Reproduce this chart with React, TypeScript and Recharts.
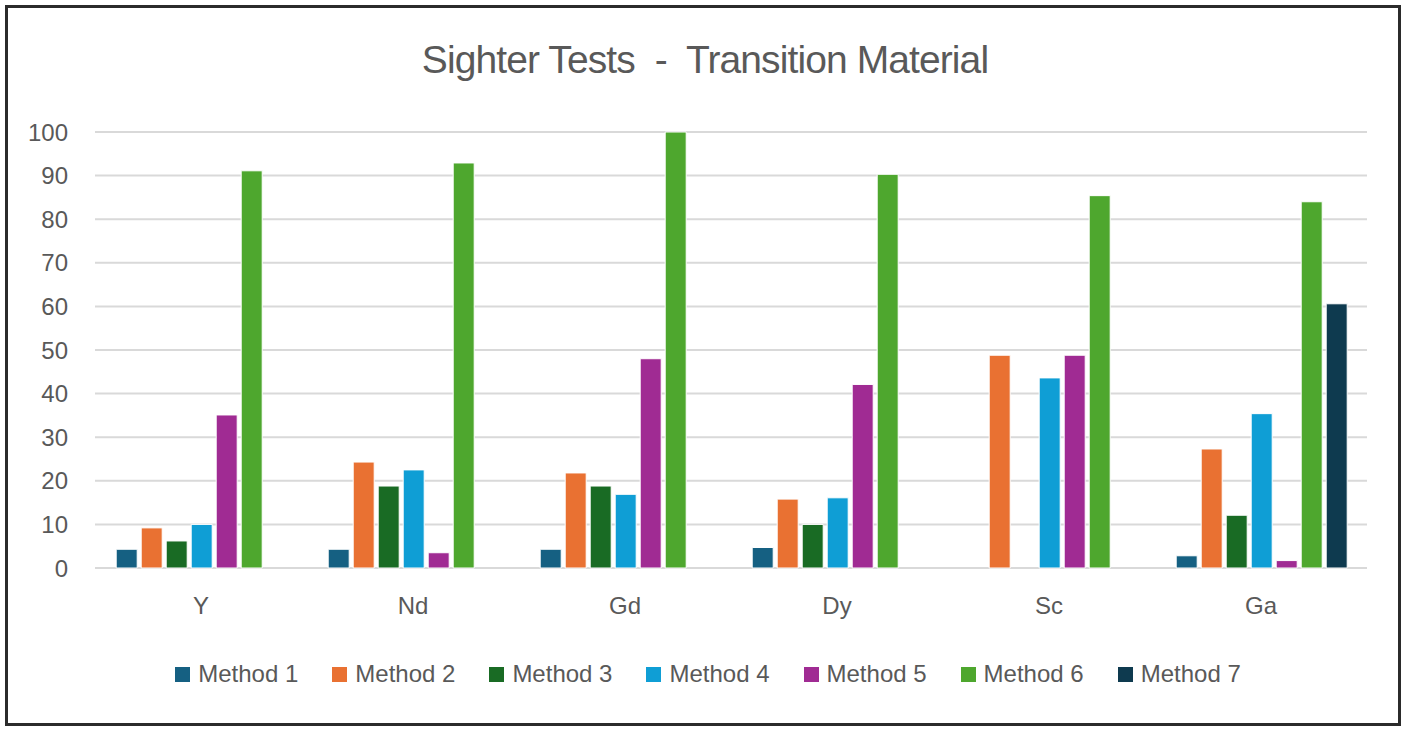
import React from 'react';
import { BarChart, Bar, XAxis, YAxis, CartesianGrid, Legend } from 'recharts';

const categories = ['Y', 'Nd', 'Gd', 'Dy', 'Sc', 'Ga'];
const method1 = [4.3, 4.3, 4.3, 4.7, null, 2.8];
const method2 = [9.2, 24.3, 21.8, 15.8, 48.8, 27.3];
const method3 = [6.2, 18.8, 18.8, 10.0, null, 12.1];
const method4 = [10.0, 22.5, 16.9, 16.1, 43.6, 35.4];
const method5 = [35.1, 3.5, 48.0, 42.1, 48.8, 1.7];
const method6 = [91.1, 92.9, 100, 90.3, 85.4, 84.0];
const method7 = [null, null, null, null, null, 60.6];
const yTicks = [0, 10, 20, 30, 40, 50, 60, 70, 80, 90, 100];

const seriesNames = ['Method 1', 'Method 2', 'Method 3', 'Method 4', 'Method 5', 'Method 6', 'Method 7'];
const seriesColors = ['#156082', '#E97132', '#196B24', '#0F9ED5', '#A02B93', '#4EA72E', '#0E3A4F'];
const seriesValues = [method1, method2, method3, method4, method5, method6, method7];

const data = categories.map((c, i) => {
  const row: Record<string, any> = { name: c };
  seriesNames.forEach((s, k) => {
    row[s] = seriesValues[k][i];
  });
  return row;
});

const FONT = '"Liberation Sans", Arial, sans-serif';
const TEXT = '#595959';

const LegendContent = () => (
  <div
    style={{
      display: 'flex',
      justifyContent: 'center',
      alignItems: 'center',
      height: 40,
      paddingLeft: 34,
      fontFamily: FONT,
      fontSize: 24,
      color: TEXT,
    }}
  >
    {seriesNames.map((s, k) => (
      <div
        key={s}
        style={{
          display: 'flex',
          alignItems: 'center',
          marginRight: k < seriesNames.length - 1 ? 34 : 0,
        }}
      >
        <span
          style={{
            display: 'inline-block',
            width: 15,
            height: 15,
            background: seriesColors[k],
            marginRight: 8,
          }}
        />
        <span style={{ whiteSpace: 'nowrap' }}>{s}</span>
      </div>
    ))}
  </div>
);

export default function App() {
  return (
    <div
      style={{
        position: 'absolute',
        left: 0,
        top: 0,
        width: 1408,
        height: 734,
        background: '#fff',
        overflow: 'hidden',
      }}
    >
      <div
        style={{
          position: 'absolute',
          left: 5,
          top: 5,
          width: 1396,
          height: 721,
          border: '3px solid #2b2b2b',
          boxSizing: 'border-box',
        }}
      />
      <div
        style={{
          position: 'absolute',
          left: 0,
          top: 40,
          width: 1410,
          textAlign: 'center',
          fontFamily: FONT,
          fontSize: 39,
          lineHeight: '39px',
          letterSpacing: '-0.9px',
          color: TEXT,
          whiteSpace: 'pre',
        }}
      >
        {'Sighter Tests  -  Transition Material'}
      </div>
      <div style={{ position: 'absolute', left: 0, top: 0 }}>
        <BarChart
          width={1408}
          height={734}
          data={data}
          margin={{ top: 132, right: 41, bottom: 40, left: 15 }}
          barCategoryGap="10%"
          barGap={4}
          style={{ fontFamily: FONT }}
        >
          <CartesianGrid vertical={false} stroke="#d9d9d9" strokeWidth={2} />
          <XAxis
            dataKey="name"
            axisLine={false}
            tickLine={false}
            tickSize={0}
            tickMargin={29}
            height={86}
            tick={{ fill: TEXT, fontSize: 24, fontFamily: FONT }}
          />
          <YAxis
            domain={[0, 100]}
            ticks={yTicks}
            axisLine={false}
            tickLine={false}
            tickSize={0}
            tickMargin={27}
            width={80}
            interval={0}
            tick={{ fill: TEXT, fontSize: 24, fontFamily: FONT }}
          />
          <Legend verticalAlign="bottom" align="center" content={<LegendContent />} />
          {seriesNames.map((s, k) => (
            <Bar
              key={s}
              dataKey={s}
              fill={seriesColors[k]}
              stroke="#ffffff"
              strokeWidth={1}
              isAnimationActive={false}
            />
          ))}
        </BarChart>
      </div>
    </div>
  );
}
